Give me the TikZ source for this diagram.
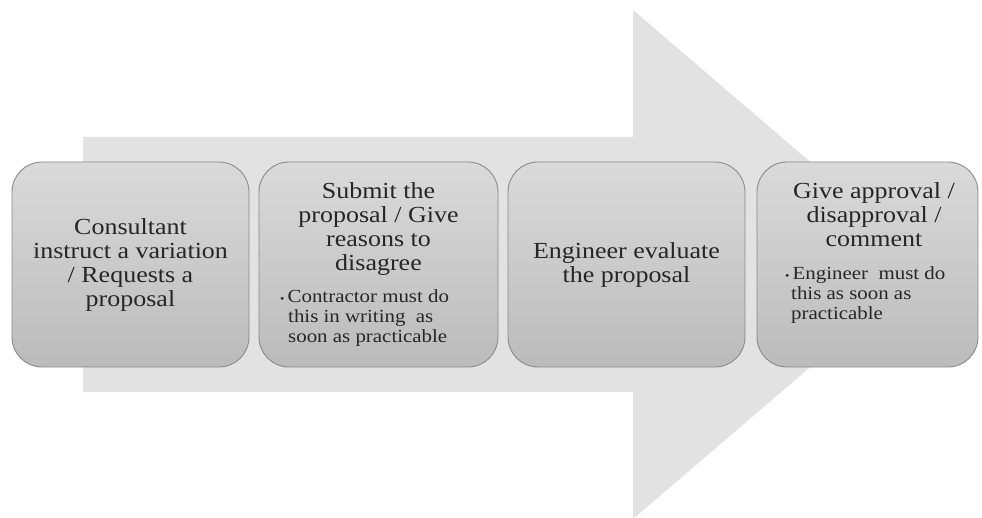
\documentclass[tikz,border=0pt]{standalone}
\usepackage{fontspec}
\setmainfont{Liberation Serif}[FakeStretch=1.13]
\definecolor{arrowgray}{HTML}{E2E2E2}
\definecolor{boxtop}{HTML}{DADADA}
\definecolor{boxbot}{HTML}{BBBBBB}
\definecolor{boxline}{HTML}{8A8A8A}
\begin{document}
\begin{tikzpicture}[x=1pt,y=-1pt,
  stepbox/.style={draw=boxline, line width=0.9pt, rounded corners=30pt,
    top color=boxtop, bottom color=boxbot, minimum height=205pt, inner sep=0pt},
  title/.style={align=center, inner sep=0pt, font=\fontsize{23}{24}\selectfont, text=black!85},
  bul/.style={align=left, inner sep=0pt, font=\fontsize{18.5}{20}\selectfont, text=black!85}]
\useasboundingbox (0,0) rectangle (982,518);
\fill[arrowgray] (83,137) -- (633,137) -- (633,10) -- (930,264.5) -- (633,519) -- (633,392) -- (83,392) -- cycle;
\node[stepbox, minimum width=237pt] (b1) at (130.5,264.5) {};
\node[stepbox, minimum width=239pt] (b2) at (378.5,264.5) {};
\node[stepbox, minimum width=237pt] (b3) at (626.5,264.5) {};
\node[stepbox, minimum width=221pt] (b4) at (867.5,264.5) {};
\node[title] (t1) at (b1.center) {Consultant\\instruct a variation\\/ Requests a\\proposal};
\node[title, anchor=north] (t2) at (378.5,182) {Submit the\\proposal / Give\\reasons to\\disagree};
\node[bul, anchor=north west] (u2) at (280,289) {{\fontsize{11}{20}\selectfont•}\,Contractor must do\\\hspace*{8pt}this in writing\ \ as\\\hspace*{8pt}soon as practicable};
\node[title] (t3) at (b3.center) {Engineer evaluate\\the proposal};
\node[title, anchor=north] (t4) at (874,182) {Give approval /\\disapproval /\\comment};
\node[bul, anchor=north west] (u4) at (785,266) {{\fontsize{11}{20}\selectfont•}\,Engineer\ \ must do\\\hspace*{6pt}this as soon as\\\hspace*{6pt}practicable};
\end{tikzpicture}
\end{document}
